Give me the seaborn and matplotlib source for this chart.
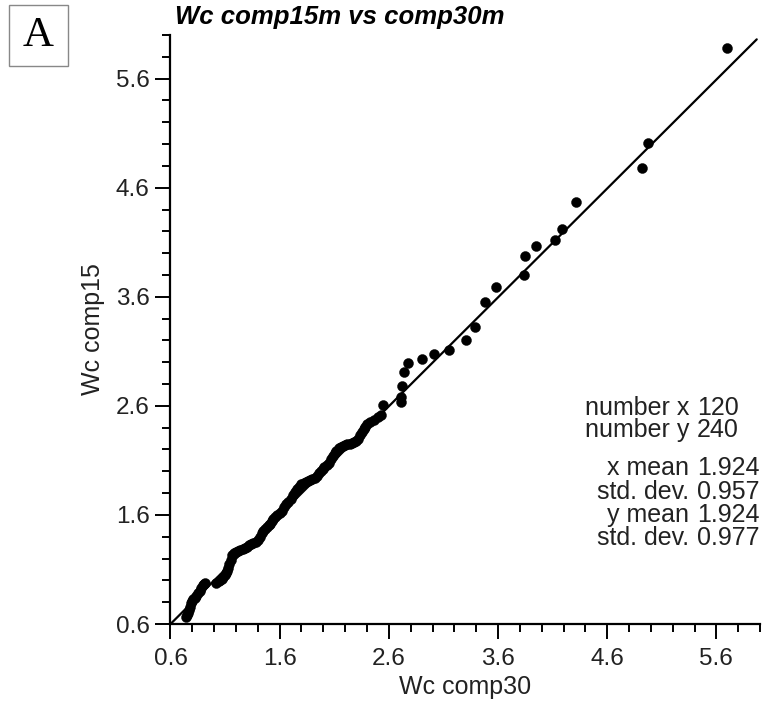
import matplotlib
matplotlib.use("Agg")
import matplotlib.pyplot as plt
from matplotlib.ticker import MultipleLocator, FixedLocator
from matplotlib.patches import Rectangle
import seaborn as sns
import pandas as pd

# Wc values for the 30 m composite (x) and the 15 m composite (y), sorted pairs
wc_comp30 = [
    0.74, 0.75, 0.76, 0.77, 0.78, 0.79, 0.80, 0.81, 0.82, 0.83, 0.85, 0.87, 0.88, 0.90, 0.91, 0.92,
    1.02, 1.04, 1.05, 1.07, 1.08, 1.10, 1.11, 1.12, 1.13, 1.14, 1.15, 1.16,
    1.18, 1.20, 1.22, 1.24, 1.26, 1.28, 1.30, 1.32, 1.34, 1.36, 1.38, 1.40, 1.42, 1.44,
    1.45, 1.47, 1.48, 1.50, 1.51, 1.53, 1.54, 1.56,
    1.58, 1.60, 1.62, 1.64, 1.66, 1.68, 1.70, 1.72, 1.74, 1.76, 1.78, 1.80, 1.82,
    1.84, 1.86, 1.88, 1.90, 1.92, 1.94, 1.96, 1.98, 2.00, 2.01, 2.03, 2.05, 2.07,
    2.09, 2.11, 2.12, 2.14, 2.16, 2.18, 2.20, 2.22, 2.24, 2.26, 2.28, 2.30, 2.32,
    2.34, 2.35, 2.37, 2.38, 2.40, 2.43, 2.46, 2.50, 2.53, 2.55,
    2.715, 2.715, 2.72, 2.74, 2.78, 2.90, 3.01, 3.15, 3.31, 3.39, 3.48, 3.58,
    3.84, 3.85, 3.95, 4.12, 4.19, 4.31, 4.92, 4.97, 5.70,
]
wc_comp15 = [
    0.66, 0.68, 0.70, 0.73, 0.76, 0.79, 0.81, 0.83, 0.84, 0.86, 0.88, 0.90, 0.93, 0.96, 0.97, 0.98,
    0.98, 0.99, 1.00, 1.01, 1.03, 1.05, 1.07, 1.09, 1.11, 1.15, 1.19, 1.23,
    1.25, 1.26, 1.27, 1.28, 1.29, 1.30, 1.31, 1.32, 1.33, 1.34, 1.35, 1.37, 1.40, 1.43,
    1.45, 1.47, 1.49, 1.51, 1.52, 1.54, 1.56, 1.58,
    1.60, 1.62, 1.64, 1.67, 1.70, 1.72, 1.75, 1.78, 1.81, 1.84, 1.86, 1.88, 1.89,
    1.90, 1.91, 1.92, 1.93, 1.94, 1.96, 1.98, 2.00, 2.02, 2.04, 2.06, 2.08, 2.11,
    2.14, 2.17, 2.19, 2.21, 2.22, 2.23, 2.24, 2.25, 2.25, 2.26, 2.27, 2.28, 2.30,
    2.33, 2.36, 2.39, 2.41, 2.43, 2.45, 2.47, 2.50, 2.52, 2.61,
    2.64, 2.68, 2.78, 2.91, 2.99, 3.03, 3.08, 3.11, 3.20, 3.32, 3.55, 3.69,
    3.80, 3.97, 4.07, 4.12, 4.22, 4.47, 4.78, 5.01, 5.88,
]

# End points of the fitted line
fit_x = [0.6, 5.97]
fit_y = [0.6, 5.96]

# Summary statistics shown in the panel
stat_labels = ["number x", "number y", "x mean", "std. dev.", "y mean", "std. dev."]
stat_values = ["120", "240", "1.924", "0.957", "1.924", "0.977"]

tick_values = [0.6, 1.6, 2.6, 3.6, 4.6, 5.6]
tick_labels = ["0.6", "1.6", "2.6", "3.6", "4.6", "5.6"]

df = pd.DataFrame({"x": wc_comp30, "y": wc_comp15})
line_df = pd.DataFrame({"x": fit_x, "y": fit_y})

sns.set_theme(style="ticks")
plt.rcParams["font.family"] = ["Liberation Sans", "DejaVu Sans"]

fig = plt.figure(figsize=(7.68, 7.04), dpi=100)
ax = fig.add_axes([0.222, 0.1136, 0.7676, 0.8367])

sns.lineplot(data=line_df, x="x", y="y", ax=ax, color="black", linewidth=1.6,
             estimator=None, sort=False)
sns.scatterplot(data=df, x="x", y="y", ax=ax, color="black", s=52,
                edgecolor="black", linewidth=0.3, zorder=3)

ax.set_xlim(0.6, 6.0)
ax.set_ylim(0.6, 6.0)
for sp in ["top", "right"]:
    ax.spines[sp].set_visible(False)
for sp in ["left", "bottom"]:
    ax.spines[sp].set_linewidth(1.6)
    ax.spines[sp].set_color("black")

ax.xaxis.set_major_locator(FixedLocator(tick_values))
ax.yaxis.set_major_locator(FixedLocator(tick_values))
ax.set_xticklabels(tick_labels)
ax.set_yticklabels(tick_labels)
ax.xaxis.set_minor_locator(MultipleLocator(0.2))
ax.yaxis.set_minor_locator(MultipleLocator(0.2))
ax.tick_params(axis="both", which="major", length=11, width=1.4, color="black",
               labelsize=17.5, pad=4, labelcolor="#222222")
ax.tick_params(axis="both", which="minor", length=6, width=1.4, color="black")
ax.tick_params(axis="x", which="major", pad=6)

ax.set_xlabel("Wc comp30", fontsize=18, color="#222222", labelpad=4)
ax.set_ylabel("Wc comp15", fontsize=18, color="#222222", labelpad=8)

fig.text(0.228, 0.976, "Wc comp15m vs comp30m", fontsize=18.5, fontweight="bold",
         fontstyle="italic", ha="left", va="center", color="black")

# Panel letter in a framed box
fig.patches.append(Rectangle((9 / 768, 1 - 66 / 704), 59 / 768, 61 / 704,
                             transform=fig.transFigure, fill=False,
                             edgecolor="#888888", linewidth=1.0))
fig.text(38.5 / 768, 1 - 36 / 704, "A", fontsize=31, family="Liberation Serif",
         ha="center", va="center", color="black")

stat_y = [408, 430, 468, 492, 515, 538]
for lab, val, py in zip(stat_labels, stat_values, stat_y):
    fig.text(689 / 768, 1 - py / 704, lab, fontsize=18, ha="right", va="center",
             color="#222222")
    fig.text(697 / 768, 1 - py / 704, val, fontsize=18, ha="left", va="center",
             color="#222222")

fig.savefig("out.png", dpi=100, facecolor="white")
